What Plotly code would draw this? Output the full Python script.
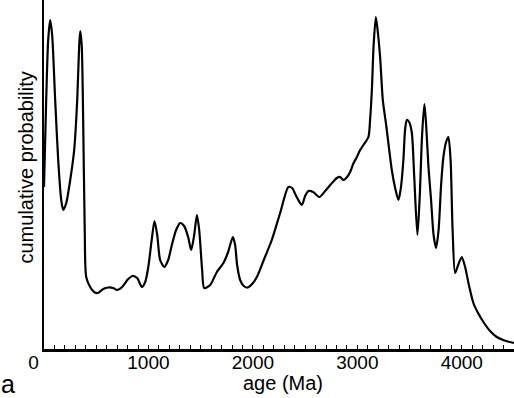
import plotly.graph_objects as go

# ages (Ma) and relative cumulative probability (arbitrary units)
age_ma = [0, 21, 40, 59, 78, 107, 136, 165, 184, 213, 251, 289, 318, 337, 347, 361, 375, 390, 404,
          442, 480, 514, 567, 614, 662, 700, 748, 806, 849, 892, 937, 969, 1000, 1031, 1058, 1084,
          1112, 1151, 1189, 1224, 1265, 1304, 1342, 1380, 1409, 1438, 1464, 1486, 1514, 1534, 1591,
          1655, 1718, 1763, 1808, 1830, 1849, 1878, 1912, 1948, 1993, 2038, 2108, 2181, 2261, 2340,
          2376, 2414, 2469, 2500, 2532, 2577, 2637, 2692, 2749, 2804, 2835, 2867, 2902, 2931, 2960,
          2995, 3027, 3058, 3106, 3122, 3139, 3156, 3177, 3194, 3218, 3244, 3276, 3330, 3362, 3393,
          3414, 3441, 3457, 3474, 3496, 3522, 3544, 3575, 3596, 3620, 3642, 3659, 3681, 3706, 3730,
          3754, 3778, 3802, 3824, 3850, 3872, 3893, 3912, 3936, 3965, 4000, 4032, 4070, 4111, 4156,
          4207, 4271, 4335, 4396, 4469, 4500]
probability = [162, 249, 309, 329, 314, 249, 189, 149, 139, 146, 169, 199, 249, 304, 318, 304, 229, 119, 72,
               62, 57, 56, 60, 61.5, 61, 59, 62, 70, 73, 71, 62, 67, 83, 109, 128, 114,
               89, 82, 89, 104, 119, 126, 123, 112, 99, 114, 134, 119, 79, 61, 64,
               77, 86, 97, 112, 104, 84, 69, 63, 61.5, 65, 72, 90, 109, 136, 162,
               161, 153, 144, 153, 158, 157, 152, 158, 165, 171, 172, 169, 172, 177, 185,
               192, 199, 204, 212, 229, 259, 304, 332, 319, 292, 249, 224, 179, 161, 149,
               159, 189, 219, 229, 227, 216, 174, 114, 149, 214, 245, 224, 182, 149, 114,
               101, 119, 164, 192, 207, 212, 189, 119, 76, 84, 92, 82, 63, 46, 36,
               27, 18, 12, 9, 6.7, 6]

tick_vals = [0, 1000, 2000, 3000, 4000]
tick_text = ["0\u00a0\u00a0\u00a0\u00a0", "1000", "2000", "3000", "4000"]

W, H = 514, 398
L, R, T, B = 44, 0, 0, 49

fig = go.Figure()
fig.add_trace(go.Scatter(
    x=age_ma, y=probability, mode="lines",
    line=dict(color="black", width=2.2, shape="spline", smoothing=0.7),
    hoverinfo="skip", showlegend=False,
))

font_family = "Arial, Liberation Sans, sans-serif"

fig.update_layout(
    width=W, height=H,
    margin=dict(l=L, r=R, t=T, b=B, autoexpand=False),
    paper_bgcolor="white", plot_bgcolor="white",
    font=dict(family=font_family, color="black"),
    xaxis=dict(
        range=[0, 4500], showgrid=False, zeroline=False,
        showline=True, linecolor="black", linewidth=2.5,
        tickmode="array", tickvals=tick_vals, ticktext=tick_text,
        ticks="inside", ticklen=4, tickwidth=1, tickcolor="black",
        tickfont=dict(size=19, family=font_family, color="black"),
        ticklabelstandoff=-5,
        minor=dict(dtick=100, ticks="inside", ticklen=4, tickwidth=1, tickcolor="black"),
    ),
    yaxis=dict(
        range=[0, 349], showgrid=False, zeroline=False,
        showline=True, linecolor="black", linewidth=2.5,
        showticklabels=False, ticks="",
    ),
)

pw = W - L - R
ph = H - T - B

def px_to_paper(px, py):
    return (px - L) / pw, (H - B - py) / ph

xa, ya = px_to_paper(282.5, 382.5)
fig.add_annotation(text="age (Ma)", x=xa, y=ya, xref="paper", yref="paper",
                   xanchor="center", yanchor="middle", showarrow=False,
                   font=dict(size=20, family=font_family, color="black"))
xa, ya = px_to_paper(25, 167.5)
fig.add_annotation(text="cumulative probability", x=xa, y=ya, xref="paper", yref="paper",
                   xanchor="center", yanchor="middle", showarrow=False, textangle=-90,
                   font=dict(size=20, family=font_family, color="black"))
xa, ya = px_to_paper(7.5, 384)
fig.add_annotation(text="a", x=xa, y=ya, xref="paper", yref="paper",
                   xanchor="center", yanchor="middle", showarrow=False,
                   font=dict(size=25, family=font_family, color="black"))

fig.write_html("out.html",
               config={"displayModeBar": False, "staticPlot": True},
               post_script="document.body.style.margin='0';document.body.style.padding='0';"
                           "document.documentElement.style.overflow='hidden';")
